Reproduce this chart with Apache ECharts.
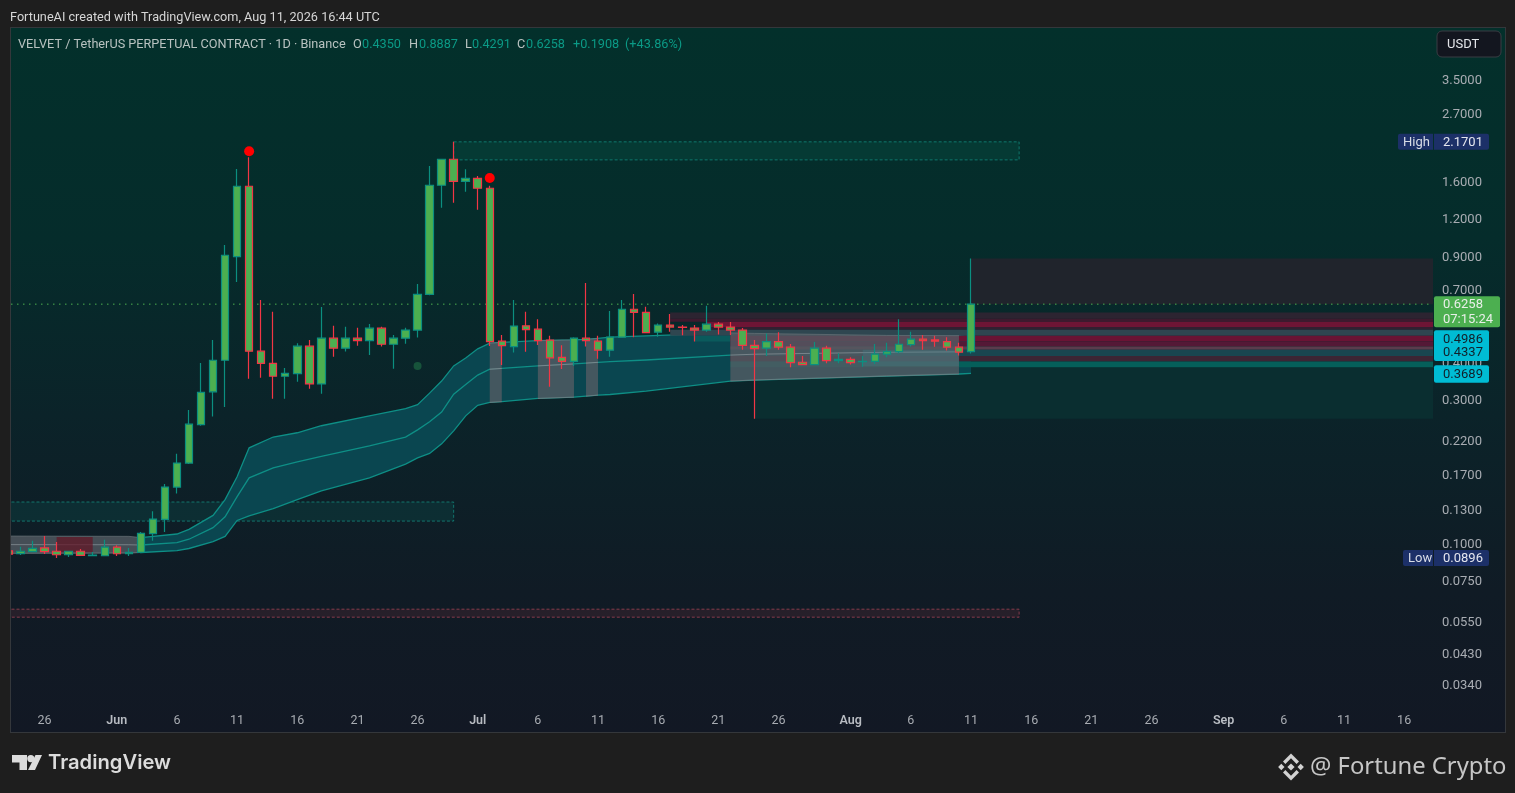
<!DOCTYPE html>
<html><head><meta charset="utf-8"><title>VELVET / TetherUS</title>
<script src="https://cdn.jsdelivr.net/npm/echarts@6/dist/echarts.min.js"></script>
<style>
html,body{margin:0;padding:0;background:#1e1e1e;width:1515px;height:793px;overflow:hidden}
#pane{position:absolute;left:10px;top:27px;width:1494px;height:704px;border:1px solid #34373b;background:linear-gradient(180deg,#03302b 0%,#052c2b 30%,#0b2329 55%,#101b25 80%,#121824 100%)}
#c{position:absolute;left:0;top:0;width:1515px;height:793px}
</style></head><body><div id="pane"></div><div id="c"></div>
<script>
// Day numbers count from 26 May (day 0)
const candleDays=[-3,-2,-1,0,1,2,3,4,5,6,7,8,9,10,11,12,13,14,15,16,17,18,19,20,21,22,23,24,25,26,27,28,29,30,31,32,33,34,35,36,37,38,39,40,41,42,43,44,45,46,47,48,49,50,51,52,53,54,55,56,57,58,59,60,61,62,63,64,65,66,67,68,69,70,71,72,73,74,75,76,77];
const opens=[.0945,.0926,.0940,.0967,.0943,.0918,.0943,.0911,.0911,.0973,.0925,.0935,.1079,.1203,.1542,.1852,.2488,.3198,.4072,.9005,1.544,.4366,.3978,.3603,.3674,.4537,.3398,.4822,.4468,.4822,.4736,.5208,.4603,.4822,.513,.6749,1.556,1.899,1.604,1.641,1.521,.4713,.4523,.530,.5168,.4748,.4165,.404,.4822,.4713,.44,.486,.602,.588,.505,.533,.525,.521,.513,.537,.525,.513,.4567,.4468,.47,.45,.401,.394,.4468,.406,.41,.403,.404,.4265,.4352,.459,.4785,.476,.47,.45,.4350];
const closes=[.0923,.0943,.0964,.0940,.0918,.0943,.0914,.0916,.0973,.0925,.0935,.1082,.1206,.1542,.1852,.2496,.3183,.4072,.9103,1.544,.4366,.3978,.3603,.3685,.4537,.3398,.4822,.4468,.4822,.4736,.5208,.4603,.4822,.513,.6749,1.556,1.899,1.604,1.641,1.521,.4698,.4555,.529,.5152,.4736,.415,.404,.4822,.4736,.44,.486,.602,.588,.5036,.533,.525,.5235,.513,.537,.525,.513,.4567,.4455,.47,.45,.40,.394,.4468,.406,.41,.40,.404,.4265,.4352,.4603,.4785,.4736,.4713,.45,.4332,.6258];
const lows=[.0920,.0916,.0937,.0923,.0896,.0903,.0910,.0910,.0910,.0910,.0910,.0928,.1022,.1093,.1468,.1840,.2465,.2646,.2849,.7418,.3535,.3563,.303,.303,.3455,.3273,.3149,.4186,.4352,.4555,.4243,.4523,.3818,.4625,.4845,.670,1.310,1.361,1.481,1.29,.4546,.3925,.4318,.4343,.458,.3325,.381,.39,.4523,.412,.4186,.4845,.486,.5036,.488,.507,.4935,.47,.507,.496,.4945,.441,.26,.4207,.441,.386,.393,.393,.398,.398,.394,.3876,.396,.4165,.43,.4523,.441,.4515,.4386,.4227,.4291];
const highs=[.0950,.0976,.1022,.1060,.1012,.0945,.0959,.0937,.1030,.0988,.0967,.1093,.1280,.1577,.1988,.278,.3987,.476,.985,1.762,1.928,.646,.590,.3838,.464,.476,.6129,.530,.526,.522,.538,.526,.4945,.522,.7305,1.803,1.899,2.1701,1.758,1.671,1.55,.4945,.646,.590,.558,.491,.4567,.486,.7358,.491,.594,.646,.677,.613,.54,.58,.534,.534,.618,.546,.546,.521,.476,.50,.505,.4616,.4207,.468,.455,.43,.4165,.4207,.4616,.466,.558,.507,.4945,.491,.486,.466,.8887];

const bandDays=[-4,7,8,11,12,14,15,16,17,19,21,23,27,30,31,32,33,34,35,36,37,38,41,44,45,46,47,50,57,59,70,76,77];
const bandUpper=[.1060,.1057,.1047,.1076,.1115,.1241,.140,.1668,.2082,.2262,.2337,.2466,.2660,.2812,.2897,.3166,.3473,.3899,.4143,.4444,.4640,.4669,.4736,.476,.4778,.4815,.486,.491,.5022,.5002,.4926,.4918,.5022];
const bandMid=[.0992,.0991,.0989,.1007,.1034,.1130,.1228,.1433,.1655,.1787,.1871,.1952,.2113,.2262,.239,.2541,.2738,.3142,.3382,.3635,.3802,.3825,.39,.3959,.3984,.4008,.403,.408,.4237,.4265,.4328,.4343,.441];
const bandLower=[.0928,.0930,.0934,.0947,.0963,.1015,.1056,.1194,.1237,.1308,.140,.1498,.1655,.1838,.1929,.1995,.2147,.2372,.266,.2885,.2948,.2966,.3039,.3070,.3094,.3118,.3133,.3215,.3473,.350,.361,.3665,.3685];
const greyStarts=[-4,37,41,45,57];
const greyEnds=[8,38,44,46,76];

const xMin=-2.793, xMax=115.4, yMin=0.02904, yMax=5.19;
const zoneStarts=[34,-4,-4,59,77];
const zoneEnds=[81,34,81,xMax,xMax];
const zoneTops=[2.17,.1375,.0605,.386,.8887];
const zoneBottoms=[1.89,.1188,.0569,.26,.6258];
const tintStart=68, tintEnd=76, tintTop=.441, tintBottom=.389;
const redBoxStart=1, redBoxEnd=4, redBoxTop=.1052, redBoxBottom=.0935;

const stripeStarts=[52,52,55,54,52,54,57,57,57,57,57,57];
const stripeEnds=[xMax,xMax,xMax,xMax,xMax,57,xMax,xMax,xMax,xMax,xMax,xMax];
const stripeTops=[.5866,.561,.547,.525,.514,.491,.491,.470,.4523,.441,.4207,.403];
const stripeBottoms=[.561,.547,.525,.514,.491,.470,.470,.4523,.441,.4207,.403,.386];

const dotDays=[17,37], dotPrices=[2.02,1.645];
const markerDays=[31], markerPrices=[.39];
const lastPrice=.6258;

const yTicks=[3.5,2.7,1.6,1.2,.9,.7,.4,.3,.22,.17,.13,.1,.075,.055,.043,.034];
const xTickDays=[0,6,11,16,21,26,31,36,41,46,51,56,61,67,72,77,82,87,92,98,103,108,113];
const xTickLabels=['26','Jun','6','11','16','21','26','Jul','6','11','16','21','26','Aug','6','11','16','21','26','Sep','6','11','16'];
const tagNames=['High','Low','','','',''];
const tagPrices=[2.1701,.0896,.6258,.4986,.4337,.3689];

const stripeColors=['#2c2431','#3d1a2e','#6e1535','#321f30','#2f4650','#0a5a5c','#6a1434','#541936','#5a3c4c','#194650','#3c2534','#055f5a'];
const zoneStyles=[
 {fill:'#053a34',stroke:'rgba(20,150,135,.7)',lineDash:[3,2]},
 {fill:'rgba(12,110,100,.2)',stroke:'rgba(20,150,135,.7)',lineDash:[3,2]},
 {fill:'rgba(120,50,65,.22)',stroke:'rgba(190,75,95,.65)',lineDash:[3,2]},
 {fill:'#0a2e30'},
 {fill:'#20242c'}];

const cat=(a,b)=>a.map((v,i)=>[v,b[i]]);
function polyBetween(api,days,up,lo){
  const pts=[];
  days.forEach((d,i)=>pts.push(api.coord([d,up[i]])));
  for(let i=days.length-1;i>=0;i--)pts.push(api.coord([days[i],lo[i]]));
  return pts;
}
const uiFont='Roboto, "Noto Sans", sans-serif';

const chart=echarts.init(document.getElementById('c'),null,{renderer:'canvas'});

function bandRender(params,api){
  if(params.dataIndex>0)return null;
  const line=(vals)=>({type:'polyline',shape:{points:bandDays.slice(2).map((d,i)=>api.coord([d,vals[i+2]]))},style:{fill:null,stroke:'#0e8f86',lineWidth:1.3}});
  return {type:'group',children:[
    {type:'polygon',shape:{points:polyBetween(api,bandDays.slice(2),bandUpper.slice(2),bandLower.slice(2))},style:{fill:'#0a4650'}},
    line(bandUpper),line(bandMid),line(bandLower)
  ]};
}
function greyRender(params,api){
  const s=greyStarts[params.dataIndex],e=greyEnds[params.dataIndex];
  const idx=bandDays.map((d,i)=>i).filter(i=>bandDays[i]>=s&&bandDays[i]<=e);
  const days=idx.map(i=>bandDays[i]);
  const pick=a=>idx.map(i=>a[i]);
  const pl=(vals,c)=>({type:'polyline',shape:{points:days.map((d,i)=>api.coord([d,vals[i]]))},style:{fill:null,stroke:c,lineWidth:1}});
  return {type:'group',children:[
    {type:'polygon',shape:{points:polyBetween(api,days,pick(bandUpper),pick(bandLower))},style:{fill:'rgba(85,92,100,.78)'}},
    pl(pick(bandMid),'rgba(140,150,155,.7)'),pl(pick(bandUpper),'rgba(110,120,125,.6)'),pl(pick(bandLower),'rgba(115,125,130,.8)')
  ]};
}
function rectOf(api){
  const a=api.coord([api.value(0),api.value(1)]),b=api.coord([api.value(2),api.value(3)]);
  return {x:a[0],y:a[1],width:b[0]-a[0],height:b[1]-a[1]};
}
function tagRender(params,api){
  const i=params.dataIndex;
  const p=api.coord([xMax,api.value(1)]);
  const y=p[1];
  const kids=[];
  const txt=(x,yy,t,col)=>({type:'text',style:{x:x,y:yy+1,text:t,fill:col,font:'13px '+uiFont,textVerticalAlign:'middle',textBaseline:'middle'}});
  if(i<2){
    const w=i===0?35:30;
    kids.push({type:'rect',shape:{x:1433-w,y:y-8,width:w,height:16,r:[2,0,0,2]},style:{fill:'#1c3068'}});
    kids.push({type:'rect',shape:{x:1434,y:y-8,width:55,height:16,r:[0,2,2,0]},style:{fill:'#1c3068'}});
    kids.push(txt(1433-w+5,y,tagNames[i],'#d8dce6'));
    kids.push(txt(1443,y,tagPrices[i].toFixed(4),'#e4e6ee'));
  }else if(i===2){
    kids.push({type:'rect',shape:{x:1434,y:y-8,width:66,height:31,r:2},style:{fill:'#4caf50'}});
    kids.push(txt(1443,y,tagPrices[i].toFixed(4),'#e8efe8'));
    kids.push(txt(1443,y+14.5,'07:15:24','#e8efe8'));
  }else{
    const shift=i===3?5:(i===4?0:0.5);
    const yy=y+shift;
    kids.push({type:'rect',shape:{x:1434,y:yy-8.5,width:55,height:17.5,r:i===3?[2,2,0,0]:(i===4?[0,0,2,2]:2)},style:{fill:'#00bcd4'}});
    kids.push(txt(1443,yy,tagPrices[i].toFixed(4),'#11202a'));
  }
  return {type:'group',children:kids};
}

const legendBits=[
 [18,'VELVET / TetherUS PERPETUAL CONTRACT · 1D · Binance','#b8c2c0'],
 [353,'O','#b8c2c0'],[362,'0.4350','#0b9a86'],
 [409,'H','#b8c2c0'],[419,'0.8887','#0b9a86'],
 [465,'L','#b8c2c0'],[472,'0.4291','#0b9a86'],
 [517,'C','#b8c2c0'],[526,'0.6258','#0b9a86'],
 [573,'+0.1908','#0b9a86'],[625,'(+43.86%)','#0b9a86']];

const bnb=[
 [[0,-13.5],[8,-5.5],[5.6,-3.1],[0,-8.7],[-5.6,-3.1],[-8,-5.5]],
 [[0,13.5],[8,5.5],[5.6,3.1],[0,8.7],[-5.6,3.1],[-8,5.5]],
 [[0,-3.6],[3.6,0],[0,3.6],[-3.6,0]],
 [[-9.7,-3.2],[-6.5,0],[-9.7,3.2],[-12.9,0]],
 [[9.7,-3.2],[12.9,0],[9.7,3.2],[6.5,0]]];

chart.setOption({
 animation:false,
 backgroundColor:'transparent',
 grid:{left:11,right:82,top:28,bottom:88,containLabel:false},
 xAxis:{type:'value',min:xMin,max:xMax,axisLine:{show:false},axisTick:{show:false},splitLine:{show:false},
   axisLabel:{customValues:xTickDays,margin:9,fontFamily:uiFont,fontSize:12.5,color:'#a8acb2',hideOverlap:false,
     showMinLabel:true,showMaxLabel:true,
     formatter:v=>{const t=xTickLabels[xTickDays.indexOf(v)];return isNaN(+t)?'{b|'+t+'}':t;},
     rich:{b:{fontFamily:uiFont,fontSize:12.5,fontWeight:600,color:'#b8bcc2'}}}},
 yAxis:{type:'log',position:'right',min:yMin,max:yMax,axisLine:{show:false},axisTick:{show:false},splitLine:{show:false},minorTick:{show:false},minorSplitLine:{show:false},
   axisLabel:{customValues:yTicks,align:'left',margin:9,hideOverlap:false,showMinLabel:true,showMaxLabel:true,
     formatter:v=>'{t|'+(+v).toFixed(4)+'}',
     rich:{t:{fontFamily:uiFont,fontSize:13,color:'#a8acb2',padding:[2,0,0,0]}}}},
 series:[
  {type:'custom',name:'zones',z:1,clip:true,silent:true,encode:{x:[0,2],y:[1,3]},
   data:zoneStarts.map((s,i)=>[s,zoneTops[i],zoneEnds[i],zoneBottoms[i]]),
   renderItem:(p,api)=>({type:'rect',shape:rectOf(api),style:zoneStyles[p.dataIndex]})},
  {type:'custom',name:'band',z:2,clip:true,silent:true,encode:{x:0,y:1},data:cat(bandDays,bandUpper),renderItem:bandRender},
  {type:'custom',name:'stripes',z:3,clip:true,silent:true,encode:{x:[0,2],y:[1,3]},
   data:stripeStarts.map((s,i)=>[s,stripeTops[i],stripeEnds[i],stripeBottoms[i]]),
   renderItem:(p,api)=>({type:'rect',shape:rectOf(api),style:{fill:stripeColors[p.dataIndex]}})},
  {type:'custom',name:'grey',z:4,clip:true,silent:true,encode:{x:0,y:1},data:greyStarts.map(s=>[s,.1]),renderItem:greyRender},
  {type:'custom',name:'overlays',z:5,clip:true,silent:true,encode:{x:[0,2],y:[1,3]},
   data:[[redBoxStart,redBoxTop,redBoxEnd,redBoxBottom],[tintStart,tintTop,tintEnd,tintBottom]],
   renderItem:(p,api)=>({type:'rect',shape:rectOf(api),style:{fill:p.dataIndex===0?'rgba(100,20,35,.7)':'rgba(70,125,135,.35)'}})},
  {type:'line',name:'last',z:6,silent:true,symbol:'none',data:[[xMin,lastPrice],[xMax,lastPrice]],lineStyle:{color:'#4caf50',width:1,type:[1.5,4.5]}},
  {type:'candlestick',name:'VELVET',z:7,silent:true,barWidth:8,encode:{x:0,y:[1,2,3,4]},
   data:candleDays.map((d,i)=>[d,opens[i],closes[i],lows[i],highs[i]]),
   itemStyle:{color:'#4caf50',color0:'#4caf50',borderColor:'#0b8f80',borderColor0:'#f23645',borderWidth:1.2}},
  {type:'scatter',name:'dots',z:8,silent:true,symbolSize:10,data:cat(dotDays,dotPrices),itemStyle:{color:'#ff0000',opacity:1}},
  {type:'scatter',name:'marker',z:8,silent:true,symbolSize:8,data:cat(markerDays,markerPrices),itemStyle:{color:'rgba(40,140,80,.45)',opacity:1}},
  {type:'custom',name:'tags',z:20,clip:false,silent:true,encode:{x:0,y:1},data:tagPrices.map(p=>[xMax,p]),renderItem:tagRender}
 ],
 graphic:{elements:[
  {type:'rect',z:100,shape:{x:0,y:28,width:10,height:704},style:{fill:'#1e1e1e'}},
  {type:'rect',z:100,shape:{x:10,y:28,width:1,height:704},style:{fill:'#34373b'}},
  {type:'text',left:10,top:11,style:{text:'FortuneAI created with TradingView.com, Aug 11, 2026 16:44 UTC',fill:'#d6d6d6',font:'12.7px '+uiFont}},
  ...legendBits.map(b=>({type:'text',left:b[0],top:38,style:{text:b[1],fill:b[2],font:'12.7px '+uiFont}})),
  {type:'rect',shape:{x:1437,y:31,width:64,height:26,r:5},style:{fill:'#13161f',stroke:'#3a3d44',lineWidth:1}},
  {type:'text',left:1447,top:38,style:{text:'USDT',fill:'#e4e6ea',font:'13px '+uiFont}},
  {type:'polygon',shape:{points:[[12,755],[27,755],[27,770],[19.5,770],[19.5,762.5],[12,762.5]]},style:{fill:'#dcdcdc'}},
  {type:'circle',shape:{cx:30.8,cy:758.6,r:3.6},style:{fill:'#dcdcdc'}},
  {type:'polygon',shape:{points:[[35.5,755],[42,755],[35,770],[28,770]]},style:{fill:'#dcdcdc'}},
  {type:'text',left:48,top:753,style:{text:'TradingView',fill:'#dcdcdc',font:'600 20.2px Inter, sans-serif'}},
  ...bnb.map(pts=>({type:'polygon',shape:{points:pts.map(q=>[q[0]+1291,q[1]+767])},style:{fill:'#d2d2d2'}})),
  {type:'text',left:1310,top:755,style:{text:'@ Fortune Crypto',fill:'#c6c6c6',font:'23.8px "Noto Sans", sans-serif'}}
 ]}
});
</script></body></html>
